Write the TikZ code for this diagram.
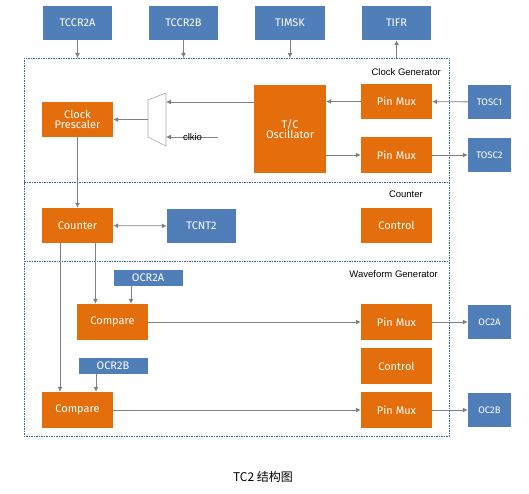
\documentclass[tikz,border=0pt]{standalone}
\usepackage{fontspec}
\newfontfamily\boxfont{Fira Sans}
\newfontfamily\lblfont{Liberation Sans}
\newfontfamily\cjkfont{Noto Sans CJK SC}
\usetikzlibrary{arrows.meta}
\definecolor{tcblue}{RGB}{79,126,184}
\definecolor{tcorange}{RGB}{228,110,12}
\definecolor{tcgray}{RGB}{128,128,128}
\definecolor{tcframe}{RGB}{50,105,165}
\tikzset{
  reg/.style={fill=tcblue, text=white, font=\boxfont\fontsize{11}{12}\selectfont,
    minimum width=69pt, minimum height=34pt, inner sep=0pt},
  unit/.style={reg, fill=tcorange, minimum width=71pt, minimum height=35pt, align=center},
  pin/.style={reg, minimum width=43pt, font=\boxfont\fontsize{9.5}{11}\selectfont},
  area/.style={font=\lblfont\fontsize{9.5}{11}\selectfont, anchor=east, inner sep=0pt},
}
\begin{document}
\begin{tikzpicture}[x=1pt, y=-1pt, >={Latex[length=5pt,width=5pt]},
    link/.style={->, draw=tcgray, line width=0.8pt}]
    \useasboundingbox (0,0) rectangle (529,494);

    % frame of the timer
    \draw[tcframe, line width=0.6pt, dash pattern=on 1.5pt off 1pt] (24,58) rectangle (449,436);
    \draw[tcframe, line width=0.6pt, dash pattern=on 1.5pt off 1pt] (24,182) -- (449,182);
    \draw[tcframe, line width=0.6pt, dash pattern=on 1.5pt off 1pt] (24,261) -- (449,261);
    \node[area] (lclk) at (441,72) {Clock Generator};
    \node[area] (lcnt) at (423,194) {Counter};
    \node[area] (lwave) at (438,274) {Waveform Generator};

    % registers
    \node[reg] (tccra) at (77.5,23) {TCCR2A};
    \node[reg] (tccrb) at (183.5,23) {TCCR2B};
    \node[reg, minimum width=70pt] (timsk) at (290,23) {TIMSK};
    \node[reg] (tifr) at (396.5,23) {TIFR};
    \coordinate (ta) at (77.5,58);
    \coordinate (tb) at (183.5,58);
    \coordinate (tm) at (290,58);
    \coordinate (tf) at (396.5,58);
    \draw[link] (tccra) -- (ta);
    \draw[link] (tccrb) -- (tb);
    \draw[link] (timsk) -- (tm);
    \draw[link] (tf) -- (tifr);

    % clock generator
    \node[unit] (presc) at (77.5,119.5) {Clock\\[-2pt]Prescaler};
    \node[unit, minimum width=72pt, minimum height=88pt] (osc) at (290,129) {T/C\\[-2pt]Oscillator};
    \node[unit] (pmux1) at (396.5,101.5) {Pin Mux};
    \node[unit, minimum height=36pt] (pmux2) at (396.5,155) {Pin Mux};
    \node[pin] (tosca) at (489.5,102) {TOSC1};
    \node[pin] (toscb) at (489.5,155) {TOSC2};
    \draw[tcgray!70, line width=0.6pt] (148,100) -- (166,93) -- (166,146) -- (148,137) -- cycle;
    \coordinate (muxin) at (166,102);
    \coordinate (muxio) at (166,137);
    \coordinate (muxout) at (148,119.5);
    \coordinate (clkio) at (218,137);
    \draw[link] (tosca) -- (pmux1);
    \draw[link] (pmux1) -- (pmux1 -| osc.east);
    \draw[link] (osc.west |- muxin) -- (muxin);
    \draw[link] (clkio) -- (muxio);
    \node[font=\lblfont\fontsize{9.5}{11}\selectfont, inner sep=0pt] (lclkio) at (192.5,137) {clkio};
    \draw[link] (muxout) -- (presc);
    \draw[link] (osc.east |- pmux2) -- (pmux2);
    \draw[link] (pmux2) -- (toscb);

    % counter
    \node[unit] (cnt) at (77.5,225.5) {Counter};
    \node[reg] (tcnt) at (201.5,226) {TCNT2};
    \node[unit] (ctrla) at (396.5,225.5) {Control};
    \draw[link] (presc) -- (cnt);
    \draw[link, <->] (cnt) -- (tcnt);

    % waveform generator
    \node[reg, minimum height=16pt] (ocra) at (148,278) {OCR2A};
    \node[unit, minimum height=36pt] (cmpa) at (112.5,322) {Compare};
    \node[reg, minimum height=16pt] (ocrb) at (113,366) {OCR2B};
    \node[unit, minimum height=36pt] (cmpb) at (77.5,410) {Compare};
    \node[unit, minimum height=36pt] (pmuxa) at (396.5,322) {Pin Mux};
    \node[unit, minimum height=36pt] (ctrlb) at (396.5,366) {Control};
    \node[unit, minimum height=36pt] (pmuxb) at (396.5,410) {Pin Mux};
    \node[pin] (oca) at (489.5,322) {OC2A};
    \node[pin] (ocb) at (489.5,410) {OC2B};
    \draw[link] ([xshift=18pt]cnt.south) -- ([xshift=18pt]cnt.south |- cmpa.north);
    \draw[link] ([xshift=-17.5pt]cnt.south) -- ([xshift=-17.5pt]cnt.south |- cmpb.north);
    \draw[link] ([xshift=-17pt]ocra.south) -- ([xshift=-17pt]ocra.south |- cmpa.north);
    \draw[link] ([xshift=-17pt]ocrb.south) -- ([xshift=-17pt]ocrb.south |- cmpb.north);
    \draw[link] (cmpa) -- (pmuxa);
    \draw[link] (cmpb) -- (pmuxb);
    \draw[link] (pmuxa) -- (oca);
    \draw[link] (pmuxb) -- (ocb);

    \node[font=\cjkfont\fontsize{12}{14}\selectfont] (cap) at (263,477) {TC2 结构图};
\end{tikzpicture}
\end{document}
